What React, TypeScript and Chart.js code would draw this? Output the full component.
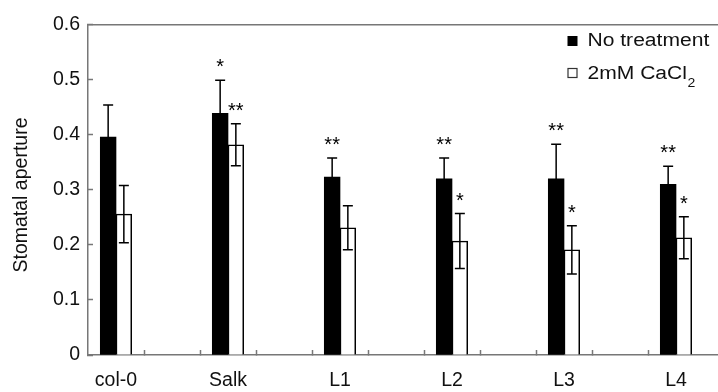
import React, { useEffect, useRef } from 'react';
import { Chart, registerables } from 'chart.js';

Chart.register(...registerables);

const categories = ['col-0', 'Salk', 'L1', 'L2', 'L3', 'L4'];
const noTreatment = [0.396, 0.439, 0.323, 0.32, 0.32, 0.31];
const noTreatmentSD = [0.058, 0.06, 0.035, 0.038, 0.063, 0.033];
const cacl2 = [0.256, 0.382, 0.231, 0.207, 0.191, 0.213];
const cacl2SD = [0.052, 0.038, 0.04, 0.05, 0.044, 0.038];
const noTreatmentSig = ['', '*', '**', '**', '**', '**'];
const cacl2Sig = ['', '**', '', '*', '*', '*'];
const seriesLabels = ['No treatment', '2mM CaCl\u2082'];
const yAxisTitle = 'Stomatal aperture';
const yMin = 0;
const yMax = 0.6;
const yStep = 0.1;

const FONT = "'Liberation Sans', Arial, Helvetica, sans-serif";
const AXIS_COLOR = '#777777';

const errors = [noTreatmentSD, cacl2SD];
const sigs = [noTreatmentSig, cacl2Sig];

// tick marks sit halfway between neighbouring bar groups' edges
const xTickValues: number[] = [];
categories.forEach((_, i) => {
  const c = i + 1;
  if (i > 0) xTickValues.push(c - 0.25);
  xTickValues.push(c);
  if (i < categories.length - 1) xTickValues.push(c + 0.25);
});

const decorPlugin = {
  id: 'decor',
  afterDatasetsDraw(chart: any) {
    const ctx = chart.ctx;
    const yScale = chart.scales.y;
    ctx.save();
    // error bars and significance marks
    [noTreatment, cacl2].forEach((vals, d) => {
      const meta = chart.getDatasetMeta(d);
      meta.data.forEach((el: any, i: number) => {
        const x = el.x;
        const v = vals[i];
        const sd = errors[d][i];
        const yTop = yScale.getPixelForValue(v + sd);
        const yBot = yScale.getPixelForValue(v - sd);
        const cap = 5;
        ctx.strokeStyle = '#000';
        ctx.lineWidth = 1.5;
        ctx.beginPath();
        ctx.moveTo(x, yTop);
        ctx.lineTo(x, yBot);
        ctx.moveTo(x - cap, yTop);
        ctx.lineTo(x + cap, yTop);
        ctx.moveTo(x - cap, yBot);
        ctx.lineTo(x + cap, yBot);
        ctx.stroke();
        const s = sigs[d][i];
        if (s) {
          ctx.fillStyle = '#000';
          ctx.font = `20px ${FONT}`;
          ctx.textAlign = 'center';
          ctx.textBaseline = 'alphabetic';
          ctx.fillText(s, x, yTop - 7);
        }
      });
    });
    ctx.restore();
  },
  afterDraw(chart: any) {
    const ctx = chart.ctx;
    const area = chart.chartArea;
    ctx.save();
    // top frame line
    ctx.strokeStyle = AXIS_COLOR;
    ctx.lineWidth = 1.5;
    ctx.beginPath();
    ctx.moveTo(area.left, area.top);
    ctx.lineTo(area.right, area.top);
    ctx.stroke();

    // y axis title
    ctx.fillStyle = '#111';
    ctx.font = `19.5px ${FONT}`;
    ctx.textAlign = 'center';
    ctx.textBaseline = 'alphabetic';
    ctx.translate(27, 195);
    ctx.rotate(-Math.PI / 2);
    ctx.fillText(yAxisTitle, 0, 0);
    ctx.restore();

    // legend
    ctx.save();
    const ds = chart.data.datasets;
    const rows = [
      { boxY: 36, base: 46 },
      { boxY: 68.5, base: 78.5 },
    ];
    ds.forEach((dset: any, i: number) => {
      const r = rows[i];
      if (i === 0) {
        ctx.fillStyle = '#000';
        ctx.fillRect(567.5, r.boxY, 10, 10);
      } else {
        ctx.fillStyle = '#fff';
        ctx.fillRect(568, r.boxY, 9, 9);
        ctx.strokeStyle = '#333';
        ctx.lineWidth = 1.2;
        ctx.strokeRect(568, r.boxY, 9, 9);
      }
      let label: string = dset.label;
      let sub = '';
      if (label.endsWith('\u2082')) {
        label = label.slice(0, -1);
        sub = '2';
      }
      ctx.save();
      ctx.translate(587.5, r.base);
      ctx.scale(1.17, 1);
      ctx.fillStyle = '#111';
      ctx.textAlign = 'left';
      ctx.textBaseline = 'alphabetic';
      ctx.font = `18px ${FONT}`;
      ctx.fillText(label, 0, 0);
      if (sub) {
        const w = ctx.measureText(label).width;
        ctx.font = `12px ${FONT}`;
        ctx.fillText(sub, w + 0.5, 8.5);
      }
      ctx.restore();
    });
    ctx.restore();
  },
};

export default function App() {
  const canvasRef = useRef<HTMLCanvasElement | null>(null);

  useEffect(() => {
    const canvas = canvasRef.current;
    if (!canvas) return;
    const chart = new Chart(canvas, {
      type: 'bar',
      data: {
        datasets: [
          {
            label: seriesLabels[0],
            data: noTreatment.map((v, i) => ({ x: i + 1, y: v })),
            backgroundColor: '#000',
            borderColor: '#000',
            borderWidth: 0,
            barThickness: 15.7,
          },
          {
            label: seriesLabels[1],
            data: cacl2.map((v, i) => ({ x: i + 1, y: v })),
            backgroundColor: '#fff',
            borderColor: '#000',
            borderWidth: 1.5,
            barThickness: 15.7,
          },
        ],
      },
      options: {
        responsive: false,
        animation: false,
        devicePixelRatio: 1,
        layout: { padding: { top: 14, left: 0, right: 0, bottom: 0 } },
        plugins: {
          legend: { display: false },
          tooltip: { enabled: false },
        },
        scales: {
          x: {
            type: 'linear',
            min: 0.75,
            max: 6.75,
            offset: false,
            afterBuildTicks: (scale: any) => {
              scale.ticks = xTickValues.map((v) => ({ value: v }));
            },
            afterFit: (scale: any) => {
              scale.height = 37;
            },
            border: { display: true, color: AXIS_COLOR, width: 1.5 },
            grid: {
              offset: false,
              drawOnChartArea: false,
              drawTicks: true,
              tickLength: -5,
              tickWidth: 1.5,
              tickColor: (ctx: any) =>
                ctx.tick && Number.isInteger(ctx.tick.value) ? 'rgba(0,0,0,0)' : AXIS_COLOR,
            },
            ticks: {
              autoSkip: false,
              maxRotation: 0,
              minRotation: 0,
              padding: 19,
              color: '#111',
              font: { family: FONT, size: 19.5 },
              callback: (value: any) =>
                Number.isInteger(value) ? categories[value - 1] : '',
            },
          },
          y: {
            type: 'linear',
            min: yMin,
            max: yMax,
            afterFit: (scale: any) => {
              scale.width = 88;
            },
            border: { display: true, color: AXIS_COLOR, width: 1.5 },
            grid: {
              drawOnChartArea: false,
              drawTicks: true,
              tickLength: -5,
              tickWidth: 1.5,
              tickColor: AXIS_COLOR,
            },
            ticks: {
              stepSize: yStep,
              padding: 13,
              color: '#111',
              font: { family: FONT, size: 19.5 },
              callback: (value: any) => (Number(value) === 0 ? '0' : Number(value).toFixed(1)),
            },
          },
        },
      } as any,
      plugins: [decorPlugin],
    });
    return () => chart.destroy();
  }, []);

  return (
    <div
      style={{
        position: 'absolute',
        left: 0,
        top: 0,
        width: 718,
        height: 392,
        overflow: 'hidden',
        background: '#fff',
      }}
    >
      <canvas ref={canvasRef} width={760} height={392} style={{ display: 'block' }} />
    </div>
  );
}
